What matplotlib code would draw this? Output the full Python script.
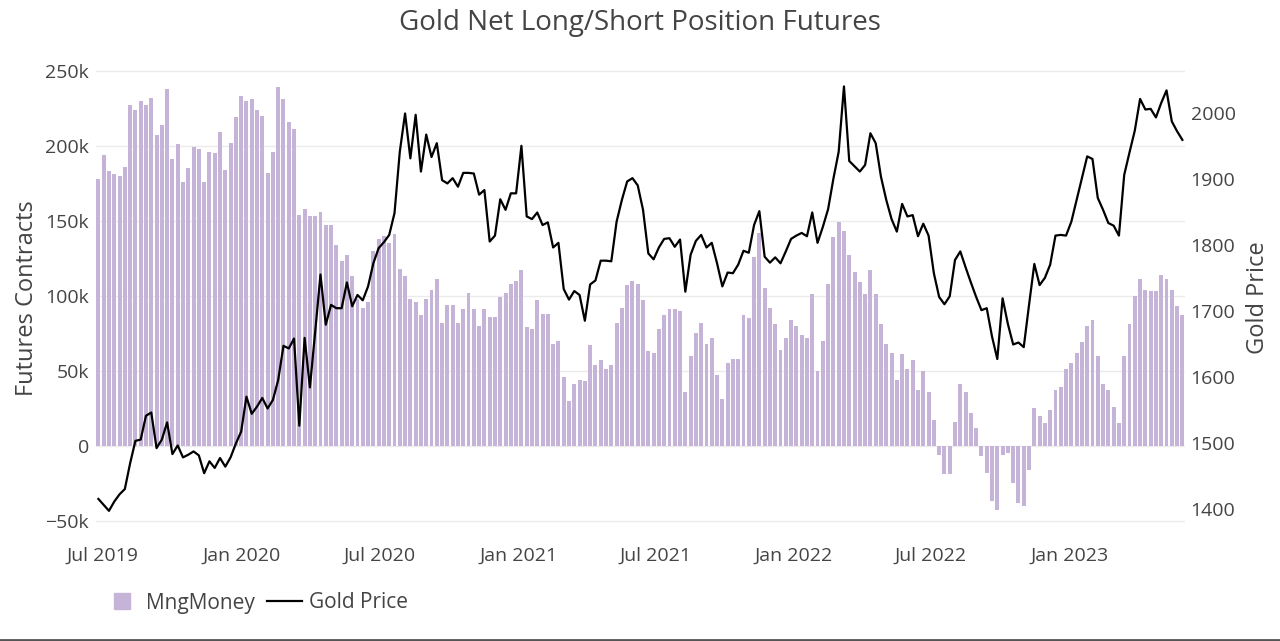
import pandas as pd
import matplotlib.pyplot as plt
from matplotlib.lines import Line2D

plt.rcParams['font.family'] = ['Open Sans', 'DejaVu Sans']

# Weekly COT reports (Tuesdays), managed money net position in thousands of contracts
dates = pd.date_range('2019-06-25', periods=206, freq='7D')

mng_money_k = [
    178, 194, 183, 181, 180, 186, 227, 224, 230, 227, 232, 207, 214, 238, 191, 201, 176, 185, 199, 198, 176, 196, 195, 209, 184, 202,
    219, 233, 230, 231, 224, 220, 182, 196, 239, 231, 216, 211, 154, 158, 153, 153, 156, 147, 147, 134, 123, 127, 113,
    98, 92, 96,
    130, 138, 140, 135, 141, 118, 113, 98, 96, 87, 98, 104, 111, 82, 94, 94, 82, 91, 102, 91, 80, 91, 86, 86, 99,
    102, 108, 110, 117, 79, 78, 97, 88, 88, 68, 70, 46, 30, 41, 44, 43, 67, 54, 57, 51, 54, 82, 92, 107, 110, 108,
    97, 63, 62, 78, 87, 91, 91, 90, 36, 60, 75, 82, 68, 72, 47, 31, 55, 58, 58, 87, 85, 126, 142, 105, 92, 81,
    64, 72, 84, 80, 74, 72, 101, 50, 70, 108, 139, 149, 143, 127, 116, 109, 101, 117, 101, 81, 68, 62, 44, 61, 51,
    57, 37, 50, 36, 17, -6, -19, -19, 16, 41, 36, 22, 12, -7, -18, -37, -43, -6, -5, -25, -38, -40, -16, 25, 20, 15,
    24, 37, 39, 51, 55, 62, 69, 80, 84, 60, 41, 37, 26, 15, 60, 81, 100, 111, 104, 103, 103, 114, 111, 104, 93, 87,
]

gold_price = [
    1415, 1406, 1397, 1411, 1422, 1430, 1469, 1503, 1505, 1541, 1546, 1492, 1505, 1531, 1483, 1496, 1478, 1482, 1487, 1481, 1454, 1472, 1462, 1477, 1464, 1478,
    1499, 1517, 1570, 1544, 1555, 1568, 1552, 1565, 1595, 1647, 1643, 1658, 1526, 1659, 1584, 1668, 1755, 1679, 1709, 1704, 1704, 1743, 1707, 1724, 1716,
    1737, 1772, 1795, 1804, 1815, 1848, 1941, 1999, 1931, 1997, 1911, 1967, 1933, 1954, 1898, 1893, 1901, 1888, 1909, 1909, 1908, 1876, 1883, 1805, 1814, 1869,
    1853, 1878, 1878, 1950, 1843, 1839, 1849, 1830, 1834, 1796, 1803, 1733, 1717, 1730, 1724, 1685, 1740, 1746, 1776, 1776, 1775, 1835, 1868, 1896, 1901, 1890,
    1853, 1787, 1778, 1796, 1809, 1810, 1797, 1808, 1729, 1785, 1806, 1815, 1796, 1803, 1772, 1737, 1758, 1757, 1770, 1791, 1788, 1830, 1851, 1782, 1773,
    1781, 1772, 1790, 1809, 1814, 1818, 1813, 1849, 1803, 1827, 1854, 1900, 1941, 2040, 1927, 1919, 1911, 1921, 1969, 1954, 1903, 1868, 1839, 1820, 1862, 1843,
    1845, 1813, 1832, 1814, 1757, 1721, 1710, 1722, 1777, 1790, 1766, 1743, 1721, 1701, 1704, 1661, 1627, 1719, 1680, 1649, 1652, 1645, 1709, 1771, 1739, 1750,
    1770, 1814, 1815, 1814, 1835, 1868, 1901, 1934, 1930, 1871, 1853, 1833, 1829, 1814, 1906, 1940, 1973, 2021, 2005, 2006, 1993, 2015, 2034, 1987, 1972, 1959,
]

left_ticks = [-50, 0, 50, 100, 150, 200, 250]
left_labels = ['\u221250k', '0', '50k', '100k', '150k', '200k', '250k']
right_ticks = [1400, 1500, 1600, 1700, 1800, 1900, 2000]
x_ticks = pd.to_datetime(['2019-07-01', '2020-01-01', '2020-07-01', '2021-01-01',
                          '2021-07-01', '2022-01-01', '2022-07-01', '2023-01-01'])
x_labels = ['Jul 2019', 'Jan 2020', 'Jul 2020', 'Jan 2021',
            'Jul 2021', 'Jan 2022', 'Jul 2022', 'Jan 2023']

text_col = '#444444'
bar_col = '#c6b4d8'

fig = plt.figure(figsize=(12.8, 6.41), dpi=100)
ax = fig.add_axes([0.0748, 0.1732, 0.851, 0.7332])
ax.bar(dates, mng_money_k, width=5.2, color=bar_col, zorder=2)
ax.set_xlim(dates[0] - pd.Timedelta(days=3.5), dates[-1] + pd.Timedelta(days=3.5))
ax.set_ylim(-56, 257.3)
ax.set_yticks(left_ticks)
ax.set_yticklabels(left_labels)
ax.set_xticks(x_ticks)
ax.set_xticklabels(x_labels)
ax.grid(axis='y', color='#ebebeb', lw=1, zorder=0)
ax.set_axisbelow(True)

ax2 = ax.twinx()
ax2.plot(dates, gold_price, color='black', lw=1.6, zorder=3)
ax2.set_ylim(1368, 2080)
ax2.set_yticks(right_ticks)

for a in (ax, ax2):
    for s in a.spines.values():
        s.set_visible(False)
    a.tick_params(length=0, labelsize=14, colors=text_col)
ax.tick_params(axis='y', pad=5)
ax.tick_params(axis='x', pad=12)
ax2.tick_params(axis='y', pad=4)

fig.text(0.5, 1 - 23 / 641, 'Gold Net Long/Short Position Futures',
         ha='center', va='center', fontsize=20, color=text_col)
fig.text(27 / 1280, 1 - 298 / 641, 'Futures Contracts', rotation=90,
         ha='center', va='center', fontsize=17, color=text_col)
fig.text(1258 / 1280, 1 - 298 / 641, 'Gold Price', rotation=90,
         ha='center', va='center', fontsize=17, color=text_col)

handles = [
    Line2D([], [], marker='s', ls='none', markersize=11, color=bar_col),
    Line2D([], [], color='black', lw=1.6),
]
fig.legend(handles, ['MngMoney', 'Gold Price'], loc='center left',
           bbox_to_anchor=(104 / 1280, 1 - 603 / 641), ncol=2, frameon=False,
           fontsize=15, labelcolor=text_col, borderpad=0, borderaxespad=0,
           handlelength=1.7, handletextpad=0.3, columnspacing=0.6)

fig.add_artist(Line2D([0, 1], [0.002, 0.002], transform=fig.transFigure,
                      color='#555555', lw=2))

fig.savefig('out.png', dpi=100, facecolor='white')
